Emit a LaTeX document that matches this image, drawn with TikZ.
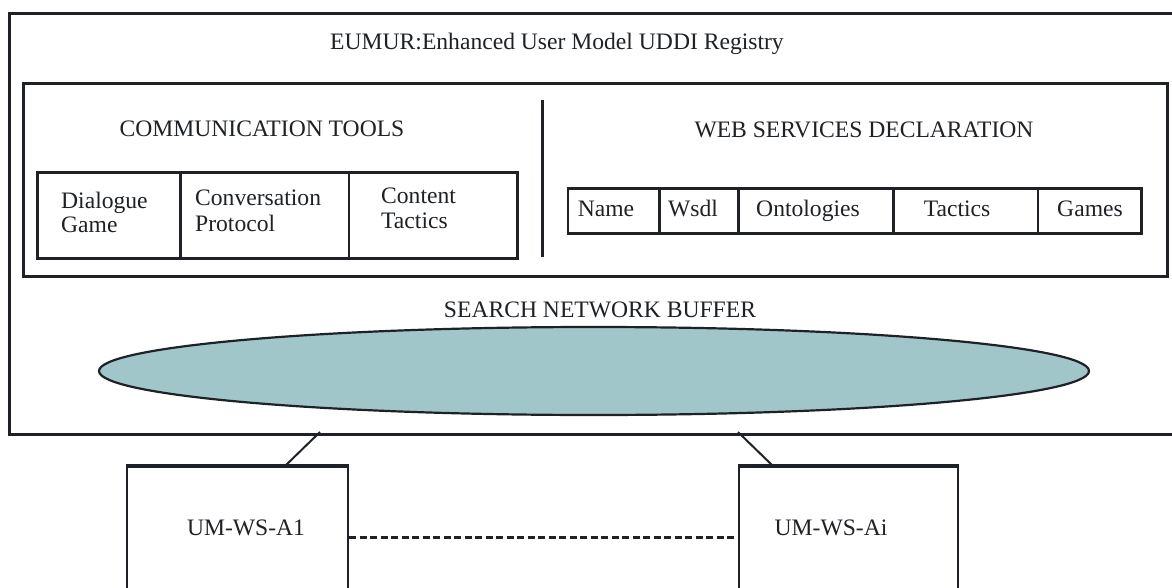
\documentclass[tikz,border=0pt]{standalone}
\usepackage{fontspec}
\setmainfont{Liberation Serif}
\usetikzlibrary{shapes.geometric}
\definecolor{ink}{HTML}{1E2226}
\definecolor{buf}{HTML}{A0C6CA}
\begin{document}
\begin{tikzpicture}[x=1pt,y=-1pt,line join=miter,
  frame/.style={draw=ink,line width=3pt,rectangle,inner sep=0pt,anchor=north west},
  cell/.style={draw=ink,line width=2.6pt,rectangle,inner sep=0pt,anchor=north west},
  umbox/.style={draw=ink,line width=2pt,rectangle,inner sep=0pt,anchor=north west},
  txt/.style={font=\fontsize{23.6}{25}\selectfont,text=ink,inner sep=0pt},
  link/.style={draw=ink,line width=2pt},
  dotlink/.style={draw=ink,line width=3pt,dash pattern=on 7pt off 3.5pt}]
\useasboundingbox (0,0) rectangle (1172,588);
\fill[white] (0,0) rectangle (1172,588);
\clip (0,0) rectangle (1172,588);
% outer registry box
\node[frame,minimum width=1180pt,minimum height=420pt] (outer) at (8,12.5) {};
\node[txt,anchor=base] (title) at (557,50) {EUMUR:Enhanced User Model UDDI Registry};
% inner box
\node[frame,minimum width=1144pt,minimum height=193pt] (inner) at (21.5,82) {};
\coordinate (divtop) at (542,100);
\coordinate (divbot) at (542,257);
\draw[ink,line width=3pt] (divtop) -- (divbot);
% communication tools
\node[txt,anchor=base] (ctools) at (262,137) {COMMUNICATION TOOLS};
\node[cell,minimum width=143pt,minimum height=86pt] (dg) at (36,171) {};
\node[cell,minimum width=168.5pt,minimum height=86pt] (cp) at (179,171) {};
\node[cell,minimum width=168.5pt,minimum height=86pt] (ct) at (347.5,171) {};
\node[txt,anchor=base west] (dgt) at (61,208) {Dialogue};
\node[txt,anchor=base west] (dgt2) at (61,233) {Game};
\node[txt,anchor=base west] (cpt) at (195,206) {Conversation};
\node[txt,anchor=base west] (cpt2) at (195,231) {Protocol};
\node[txt,anchor=base west] (ctt) at (381,204) {Content};
\node[txt,anchor=base west] (ctt2) at (381,229) {Tactics};
% web services declaration
\node[txt,anchor=base] (wsd) at (864,138) {WEB SERVICES DECLARATION};
\node[cell,minimum width=91.5pt,minimum height=45pt] (nm) at (566.5,187) {};
\node[cell,minimum width=79pt,minimum height=45pt] (ws) at (658,187) {};
\node[cell,minimum width=155pt,minimum height=45pt] (on) at (737,187) {};
\node[cell,minimum width=144.5pt,minimum height=45pt] (ta) at (892,187) {};
\node[cell,minimum width=103.5pt,minimum height=45pt] (ga) at (1036.5,187) {};
\node[txt,anchor=base] (nmt) at (606,217) {Name};
\node[txt,anchor=base] (wst) at (693,217) {Wsdl};
\node[txt,anchor=base] (ont) at (808,217) {Ontologies};
\node[txt,anchor=base] (tat) at (957,217) {Tactics};
\node[txt,anchor=base] (gat) at (1090,217) {Games};
% search network buffer
\node[txt,anchor=base] (snb) at (600,317) {SEARCH NETWORK BUFFER};
\node[ellipse,draw=ink,line width=2.2pt,fill=buf,minimum width=990pt,minimum height=88pt,inner sep=0pt] (buffer) at (594,371) {};
% agents
\node[umbox,minimum width=221pt,minimum height=160pt] (a1) at (126,466) {};
\node[umbox,minimum width=219pt,minimum height=160pt] (ai) at (738,466) {};
\draw[ink,line width=3.2pt] (a1.north west) -- (a1.north east);
\draw[ink,line width=3.2pt] (ai.north west) -- (ai.north east);
\node[txt,anchor=base] (a1t) at (246,535) {UM-WS-A1};
\node[txt,anchor=base] (ait) at (831,535) {UM-WS-Ai};
\coordinate (o1) at (320,432);
\coordinate (o2) at (738,432);
\draw[link] (o1) -- (a1.north -| 285,0);
\draw[link] (o2) -- (ai.north -| 773,0);
\draw[dotlink] (a1.east |- 0,537) -- (ai.west |- 0,537);
\end{tikzpicture}
\end{document}
